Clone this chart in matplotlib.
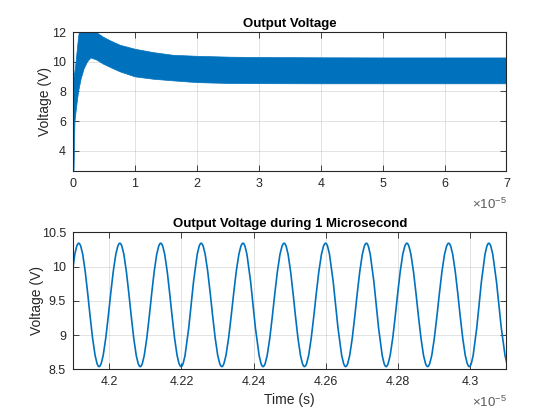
import matplotlib
matplotlib.use("Agg")
import matplotlib.pyplot as plt
from matplotlib.path import Path
from matplotlib.patches import PathPatch
from matplotlib.ticker import FormatStrFormatter

plt.rcParams['font.family'] = ['Liberation Sans', 'DejaVu Sans']
plt.rcParams['mathtext.fontset'] = 'custom'
plt.rcParams['mathtext.rm'] = 'Liberation Sans'
plt.rcParams['mathtext.it'] = 'Liberation Sans:italic'

blue = '#0072BD'
axis_col = '#262626'

# top panel: envelope of the fast switching ripple (time in 1e-5 s)
env_t = [0, 0.008, 0.023, 0.05, 0.081, 0.1, 0.124, 0.173, 0.226, 0.28, 0.38,
         0.484, 0.6, 0.753, 0.995, 1.29, 1.61, 2.0, 2.53, 2.98, 4.0, 5.0, 6.0, 7.0]
env_upper = [12.5, 9.0, 9.3, 10.4, 11.7, 12.2, 12.4, 12.4, 12.35, 12.3, 12.0,
             11.7, 11.45, 11.16, 10.89, 10.66, 10.48, 10.41, 10.35, 10.33, 10.31, 10.3, 10.3, 10.3]
env_lower = [2.64, 2.64, 5.97, 7.0, 8.0, 8.4, 8.9, 9.58, 10.03, 10.3, 10.15,
             9.88, 9.65, 9.36, 9.02, 8.86, 8.75, 8.63, 8.57, 8.56, 8.55, 8.55, 8.55, 8.55]

# bottom panel: peaks and troughs of the ripple (time in 1e-5 s)
peak_t = [4.19158, 4.20297, 4.21428, 4.22547, 4.23706, 4.24844, 4.25992,
          4.27122, 4.28242, 4.29400, 4.30511]
peak_v = [10.34] * 11
trough_t = [4.1860, 4.19722, 4.20861, 4.21992, 4.23119, 4.24261, 4.25408,
            4.26547, 4.27667, 4.28817, 4.29972, 4.3107]
trough_v = [8.54] * 12

top_xticks = [0, 1, 2, 3, 4, 5, 6, 7]
top_yticks = [4, 6, 8, 10, 12]
bot_xticks = [4.2, 4.22, 4.24, 4.26, 4.28, 4.3]
bot_yticks = [8.5, 9, 9.5, 10, 10.5]


def style(ax):
    ax.grid(True, color=axis_col, alpha=0.15, linewidth=0.6)
    ax.set_axisbelow(True)
    for s in ax.spines.values():
        s.set_color(axis_col)
        s.set_linewidth(0.8)
    ax.tick_params(direction='in', top=True, right=True, length=4,
                   width=0.6, colors=axis_col, labelsize=9, pad=5)
    ax.xaxis.set_major_formatter(FormatStrFormatter('%g'))
    ax.yaxis.set_major_formatter(FormatStrFormatter('%g'))
    ax.text(1.0, -0.24, r'$\times\mathrm{10}^{\mathrm{-5}}$', transform=ax.transAxes,
            ha='right', va='center', fontsize=9.5, color='#5a5a5a')


fig = plt.figure(figsize=(5.6, 4.2), dpi=100)
ax1 = fig.add_axes([0.1304, 0.5936, 0.774, 0.3295])
ax2 = fig.add_axes([0.1304, 0.1207, 0.774, 0.3262])

ax1.fill_between(env_t, env_lower, env_upper, color=blue, linewidth=0.5)
ax1.set_xlim(0, 7)
ax1.set_ylim(2.64, 12)
ax1.set_xticks(top_xticks)
ax1.set_yticks(top_yticks)
ax1.set_title('Output Voltage', fontsize=9.5, fontweight='bold', pad=3.5)
ax1.set_ylabel('Voltage (V)', fontsize=10, color=axis_col)
ax1.yaxis.set_label_coords(-0.049, 0.5)
style(ax1)

# smooth ripple through the extrema, drawn as bezier segments
ext = []
for i in range(len(peak_t)):
    ext.append((trough_t[i], trough_v[i]))
    ext.append((peak_t[i], peak_v[i]))
ext.append((trough_t[-1], trough_v[-1]))
k = 0.3634
verts = [ext[0]]
codes = [Path.MOVETO]
for (t0, v0), (t1, v1) in zip(ext[:-1], ext[1:]):
    d = t1 - t0
    verts += [(t0 + k * d, v0), (t1 - k * d, v1), (t1, v1)]
    codes += [Path.CURVE4] * 3
ax2.add_patch(PathPatch(Path(verts, codes), facecolor='none', edgecolor=blue, linewidth=1.2))
ax2.set_xlim(4.19, 4.31)
ax2.set_ylim(8.5, 10.5)
ax2.set_xticks(bot_xticks)
ax2.set_yticks(bot_yticks)
ax2.set_title('Output Voltage during 1 Microsecond', fontsize=9.5, fontweight='bold', pad=3.5)
ax2.set_ylabel('Voltage (V)', fontsize=10, color=axis_col)
ax2.yaxis.set_label_coords(-0.068, 0.5)
ax2.set_xlabel('Time (s)', fontsize=10, color=axis_col)
ax2.xaxis.set_label_coords(0.5, -0.17)
style(ax2)

fig.savefig('out.png', dpi=100)
